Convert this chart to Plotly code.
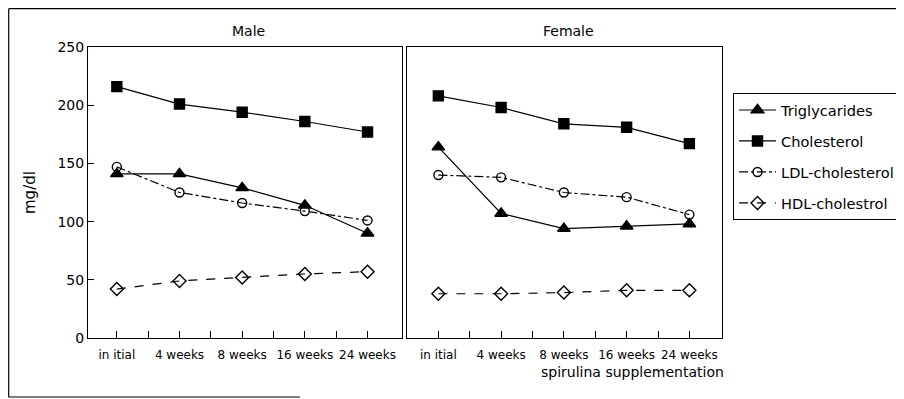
import plotly.graph_objects as go

# page has an 8px body margin, so the figure is placed at (8, 8) in the window
OX, OY = 8, 8
W, H = 896, 391

categories = ["in itial", "4 weeks", "8 weeks", "16 weeks", "24 weeks"]
y_ticks = [0, 50, 100, 150, 200, 250]

male_trig = [141, 141, 129, 114, 90]
male_chol = [216, 201, 194, 186, 177]
male_ldl = [147, 125, 116, 109, 101]
male_hdl = [42, 49, 52, 55, 57]

female_trig = [164, 107, 94, 96, 98]
female_chol = [208, 198, 184, 181, 167]
female_ldl = [140, 138, 125, 121, 106]
female_hdl = [38, 38, 39, 41, 41]

series_names = ["Triglycarides", "Cholesterol", "LDL-cholesterol", "HDL-cholestrol"]

FONT = "DejaVu Sans"

def px(x):
    return (x - OX) / W

def py(y):
    return 1 - (y - OY) / H

styles = [
    dict(dash="solid", symbol="triangle-up", size=11),
    dict(dash="solid", symbol="square", size=10),
    dict(dash="dashdot", symbol="circle-open", size=9),
    dict(dash="dash", symbol="diamond-open", size=10),
]

xpos = list(range(len(categories)))

fig = go.Figure()

male = [male_trig, male_chol, male_ldl, male_hdl]
female = [female_trig, female_chol, female_ldl, female_hdl]

for i, (name, vals) in enumerate(zip(series_names, male)):
    st = styles[i]
    fig.add_trace(go.Scatter(
        x=xpos, y=vals, name=name, mode="lines+markers",
        legendgroup=name, showlegend=True,
        line=dict(color="black", width=1.2, dash=st["dash"]),
        marker=dict(symbol=st["symbol"], size=st["size"], color="black",
                    line=dict(color="black", width=1.4)),
        xaxis="x", yaxis="y",
    ))

for i, (name, vals) in enumerate(zip(series_names, female)):
    st = styles[i]
    fig.add_trace(go.Scatter(
        x=xpos, y=vals, name=name, mode="lines+markers",
        legendgroup=name, showlegend=False,
        line=dict(color="black", width=1.2, dash=st["dash"]),
        marker=dict(symbol=st["symbol"], size=st["size"], color="black",
                    line=dict(color="black", width=1.4)),
        xaxis="x2", yaxis="y2",
    ))

tickvals = [v / 2 for v in range(0, 9)]
ticktext = [categories[int(v)] if v == int(v) else "" for v in tickvals]

common_x = dict(
    tickmode="array", tickvals=tickvals, ticktext=ticktext, tickangle=0,
    ticks="inside", ticklen=7, tickcolor="black", tickwidth=1,
    ticklabelstandoff=6,
    showline=True, linecolor="black", linewidth=1, mirror=True,
    showgrid=False, zeroline=False, automargin=False,
    tickfont=dict(family=FONT, size=12, color="black"),
)
common_y = dict(
    range=[0, 250], showline=True, linecolor="black", linewidth=1, mirror=True,
    showgrid=False, zeroline=False, automargin=False,
)

y_dom = [py(338), py(47)]

fig.update_layout(
    width=W, height=H,
    margin=dict(l=0, r=0, t=0, b=0, pad=0),
    paper_bgcolor="white", plot_bgcolor="white",
    font=dict(family=FONT, size=13, color="black"),
    xaxis=dict(domain=[px(88), px(402)], range=[-0.46, 4.55], anchor="y", **common_x),
    xaxis2=dict(domain=[px(407), px(722)], range=[-0.5, 4.52], anchor="y2", **common_x),
    yaxis=dict(domain=y_dom, anchor="x", tickmode="array", tickvals=y_ticks,
               ticks="inside", ticklen=6, tickcolor="black",
               tickfont=dict(family=FONT, size=14, color="black"),
               **common_y),
    yaxis2=dict(domain=y_dom, anchor="x2", showticklabels=False, ticks="", **common_y),
    showlegend=True,
    legend=dict(
        x=px(733), y=py(93), xanchor="left", yanchor="top",
        bordercolor="black", borderwidth=1, bgcolor="white",
        font=dict(family=FONT, size=14.6, color="black"),
        traceorder="grouped", tracegroupgap=9, itemwidth=37,
    ),
    annotations=[
        dict(text="Male", x=px(248), y=py(31), xref="paper", yref="paper",
             xanchor="center", yanchor="middle",
             showarrow=False, font=dict(family=FONT, size=14, color="black")),
        dict(text="Female", x=px(568), y=py(31), xref="paper", yref="paper",
             xanchor="center", yanchor="middle",
             showarrow=False, font=dict(family=FONT, size=14, color="black")),
        dict(text="spirulina supplementation", x=px(726), y=py(372), xref="paper", yref="paper",
             xanchor="right", yanchor="middle",
             showarrow=False, font=dict(family=FONT, size=14, color="black")),
        dict(text="mg/dl", x=px(30), y=py(193), xref="paper", yref="paper", textangle=-90,
             xanchor="center", yanchor="middle",
             showarrow=False, font=dict(family=FONT, size=15, color="black")),
    ],
    shapes=[
        dict(type="line", xref="paper", yref="paper", x0=px(8.7), x1=1, y0=py(8.7), y1=py(8.7),
             line=dict(color="black", width=1.2)),
        dict(type="line", xref="paper", yref="paper", x0=px(8.7), x1=px(8.7), y0=py(8.7), y1=py(397),
             line=dict(color="black", width=1.2)),
        dict(type="line", xref="paper", yref="paper", x0=px(8.7), x1=px(300), y0=py(397), y1=py(397),
             line=dict(color="black", width=1.2)),
    ],
)

fig.write_html("out.html")
